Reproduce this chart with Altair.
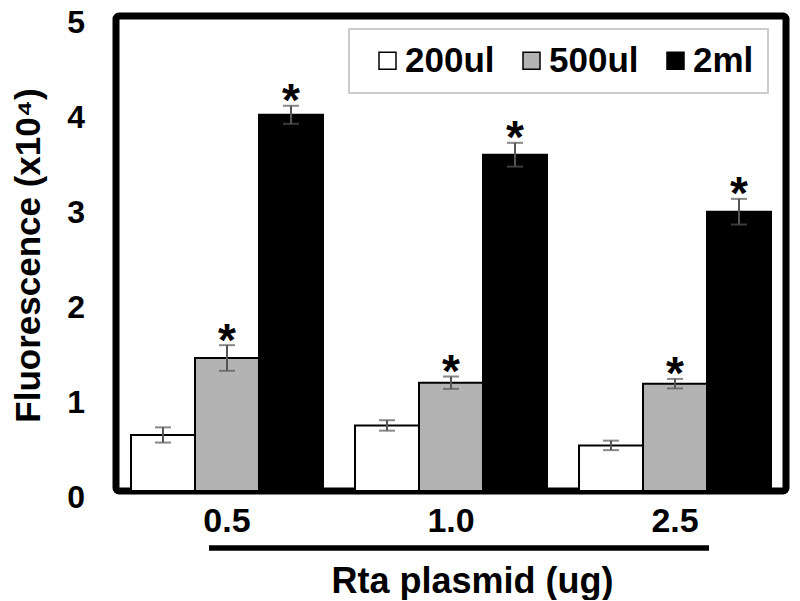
import altair as alt
import pandas as pd

# ---- data ----
doses = ["0.5", "1.0", "2.5"]
volumes = ["200ul", "500ul", "2ml"]
vol_colors = ["#ffffff", "#b3b3b3", "#000000"]

mean_200ul = [0.59, 0.69, 0.48]
mean_500ul = [1.40, 1.14, 1.13]
mean_2ml = [3.96, 3.54, 2.94]

err_200ul = [0.08, 0.055, 0.05]
err_500ul = [0.135, 0.065, 0.05]
err_2ml = [0.095, 0.125, 0.135]

sig_200ul = ["", "", ""]
sig_500ul = ["*", "*", "*"]
sig_2ml = ["*", "*", "*"]

y_ticks = [0, 1, 2, 3, 4, 5]

rows = []
for vol, means, errs, sigs in zip(
    volumes,
    [mean_200ul, mean_500ul, mean_2ml],
    [err_200ul, err_500ul, err_2ml],
    [sig_200ul, sig_500ul, sig_2ml],
):
    for d, m, e, s in zip(doses, means, errs, sigs):
        rows.append(dict(dose=d, vol=vol, mean=m, lo=m - e, hi=m + e, sig=s))
df = pd.DataFrame(rows)

FONT = "Liberation Sans"

xenc = alt.X(
    "dose:N",
    sort=doses,
    scale=alt.Scale(domain=doses, paddingInner=0.143, paddingOuter=0.067),
    axis=alt.Axis(
        title="Rta plasmid (ug)",
        labelAngle=0,
        labelFont=FONT,
        labelFontSize=34,
        labelFontWeight="bold",
        labelColor="black",
        labelPadding=13,
        ticks=False,
        tickSize=0,
        domain=False,
        titleFont=FONT,
        titleFontSize=36,
        titleFontWeight="bold",
        titleColor="black",
        titleX=356,
        titleY=101,
        titleBaseline="alphabetic",
    ),
)
xoff = alt.XOffset(
    "vol:N", sort=volumes, scale=alt.Scale(domain=volumes, paddingInner=0, paddingOuter=0)
)
yscale = alt.Scale(domain=[0, 5], nice=False)
yaxis = alt.Axis(
    values=y_ticks,
    format="d",
    title="Fluorescence (x10⁴)",
    grid=False,
    ticks=False,
    tickSize=0,
    domain=False,
    labelFont=FONT,
    labelFontSize=32,
    labelFontWeight="bold",
    labelColor="black",
    labelPadding=31.5,
    labelOffset=6,
    titleFont=FONT,
    titleFontSize=35,
    titleFontWeight="bold",
    titleColor="black",
    titleX=-88,
    titleY=239,
    titleAngle=270,
    titleBaseline="middle",
    titleAlign="center",
)

base = alt.Chart(df)

bars = base.mark_bar(stroke="black", strokeWidth=2).encode(
    x=xenc,
    xOffset=xoff,
    y=alt.Y("mean:Q", scale=yscale, axis=yaxis),
    color=alt.Color(
        "vol:N",
        sort=volumes,
        scale=alt.Scale(domain=volumes, range=vol_colors),
        legend=alt.Legend(
            title=" ",
            titleOrient="left",
            titleFontSize=8,
            titlePadding=7,
            orient="none",
            legendX=233,
            legendY=13,
            direction="horizontal",
            symbolType="square",
            symbolSize=289,
            symbolStrokeColor="black",
            symbolStrokeWidth=1.5,
            symbolOpacity=1,
            labelFont=FONT,
            labelFontSize=35,
            labelFontWeight="bold",
            labelColor="black",
            labelOffset=0,
            columnPadding=19,
            padding=14,
            strokeColor="#cccccc",
            fillColor="white",
        ),
    ),
)

ERR_COLOR = "#555555"
err = base.mark_rule(color=ERR_COLOR, strokeWidth=2).encode(
    x=xenc, xOffset=xoff, y=alt.Y("lo:Q", scale=yscale, axis=yaxis), y2="hi:Q"
)
cap_lo = base.mark_tick(color=ERR_COLOR, thickness=2, size=16).encode(
    x=xenc, xOffset=xoff, y=alt.Y("lo:Q", scale=yscale, axis=yaxis)
)
cap_hi = base.mark_tick(color=ERR_COLOR, thickness=2, size=16).encode(
    x=xenc, xOffset=xoff, y=alt.Y("hi:Q", scale=yscale, axis=yaxis)
)
stars = base.mark_text(
    font=FONT, fontSize=46, fontWeight="bold", color="black", baseline="alphabetic", dy=10.5
).encode(x=xenc, xOffset=xoff, y=alt.Y("hi:Q", scale=yscale, axis=yaxis), text="sig:N")

underline = alt.Chart(pd.DataFrame({"k": [0]})).mark_rule(color="black", strokeWidth=5.5).encode(
    x=alt.value(93), x2=alt.value(593), y=alt.value(532)
)

chart = (
    alt.layer(bars, err, cap_lo, cap_hi, stars, underline)
    .properties(
        width=670,
        height=475,
        autosize=alt.AutoSizeParams(type="none"),
        padding={"left": 108, "top": 8, "right": 6, "bottom": 109},
        background="white",
    )
    .configure_view(stroke="black", strokeWidth=7, cornerRadius=3)
    .configure_legend(strokeWidth=2)
)

chart.save("out.html", embed_options={"renderer": "svg", "actions": False})
